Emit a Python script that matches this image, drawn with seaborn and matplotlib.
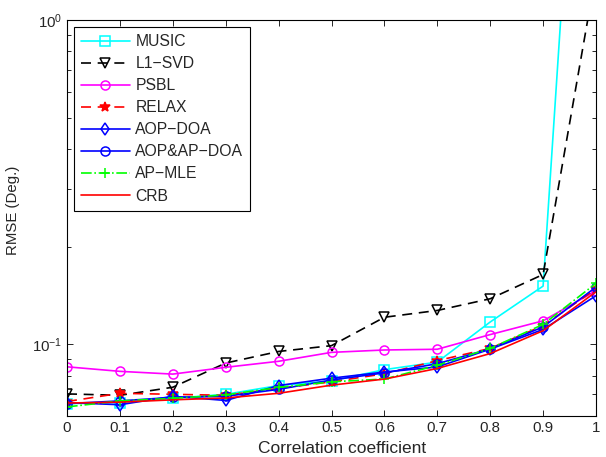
import pandas as pd
import matplotlib
matplotlib.use("Agg")
import matplotlib.pyplot as plt
import seaborn as sns

# --- dati ---
rho = [0.0, 0.1, 0.2, 0.3, 0.4, 0.5, 0.6, 0.7, 0.8, 0.9, 1.0]

music = [0.0655, 0.0660, 0.0680, 0.0700, 0.0745, 0.0770, 0.0834, 0.0880, 0.117, 0.151, 45.0]
l1svd = [0.0702, 0.0695, 0.0736, 0.0874, 0.0949, 0.0989, 0.121, 0.127, 0.138, 0.164, 1.4]
psbl = [0.0851, 0.0824, 0.0808, 0.0848, 0.0885, 0.0943, 0.0959, 0.0964, 0.107, 0.118, 0.146]
relax = [0.0665, 0.0705, 0.0700, 0.0695, 0.0730, 0.0765, 0.0810, 0.0889, 0.0970, 0.114, 0.148]
aop_doa = [0.0660, 0.0650, 0.0690, 0.0670, 0.0745, 0.0785, 0.0820, 0.0850, 0.0965, 0.111, 0.141]
aop_ap_doa = [0.0655, 0.0668, 0.0685, 0.0690, 0.0725, 0.0775, 0.0815, 0.0870, 0.0967, 0.113, 0.150]
ap_mle = [0.0640, 0.0668, 0.0680, 0.0697, 0.0735, 0.0765, 0.0780, 0.0860, 0.0970, 0.115, 0.154]
crb = [0.0658, 0.0662, 0.0673, 0.0682, 0.0705, 0.0747, 0.0780, 0.0841, 0.0935, 0.110, 0.145]

series = [
    ("MUSIC", music, "cyan", "s", "-"),
    ("L1\u2212SVD", l1svd, "black", "v", (0, (6, 4))),
    ("PSBL", psbl, "magenta", "o", "-"),
    ("RELAX", relax, "red", "*", (0, (6, 4))),
    ("AOP\u2212DOA", aop_doa, "blue", "d", "-"),
    ("AOP&AP\u2212DOA", aop_ap_doa, "blue", "o", "-"),
    ("AP\u2212MLE", ap_mle, "lime", "+", "-."),
    ("CRB", crb, "red", None, "-"),
]

sns.set_style("ticks")
plt.rcParams["font.family"] = ["Liberation Sans", "DejaVu Sans"]
plt.rcParams["mathtext.fontset"] = "custom"
plt.rcParams["mathtext.rm"] = "Liberation Sans"
plt.rcParams["xtick.direction"] = "in"
plt.rcParams["ytick.direction"] = "in"

fig = plt.figure(figsize=(6.06, 4.57), dpi=100)
ax = fig.add_axes([67 / 606, 41 / 457, 529 / 606, 396 / 457])

for name, vals, col, mk, ls in series:
    df = pd.DataFrame({"rho": rho, "rmse": vals})
    filled = mk in ("*", "+")
    sns.lineplot(data=df, x="rho", y="rmse", ax=ax, label=name, color=col,
                 marker=mk, linestyle=ls, linewidth=1.2,
                 markersize=7 if filled else 6.5,
                 markerfacecolor=col if filled else "none",
                 markeredgecolor=col, markeredgewidth=1.1)

ax.set_yscale("log")
ax.set_xlim(0, 1)
ax.set_ylim(0.06, 1)
ax.set_xticks(rho)
ax.set_xticklabels(["0", "0.1", "0.2", "0.3", "0.4", "0.5", "0.6", "0.7", "0.8", "0.9", "1"])
ax.tick_params(which="both", top=True, right=True, labelsize=10.8, length=4, width=0.7)
ax.tick_params(which="minor", length=3)
ax.set_xlabel("Correlation coefficient", fontsize=12.5)
ax.xaxis.set_label_coords(0.52, -0.063)
ax.set_ylabel("RMSE (Deg.)", fontsize=10.8)
ax.yaxis.set_label_coords(-0.088, 0.52)
for sp in ax.spines.values():
    sp.set_linewidth(0.8)
    sp.set_color("black")

leg = ax.legend(loc="upper left", fontsize=11.3, frameon=True, fancybox=False,
                edgecolor="black", framealpha=1, handlelength=3.1,
                handletextpad=0.35, borderpad=0.45,
                borderaxespad=0.45, labelspacing=0.45)
leg.get_frame().set_linewidth(0.8)

plt.savefig("out.png", dpi=100)
